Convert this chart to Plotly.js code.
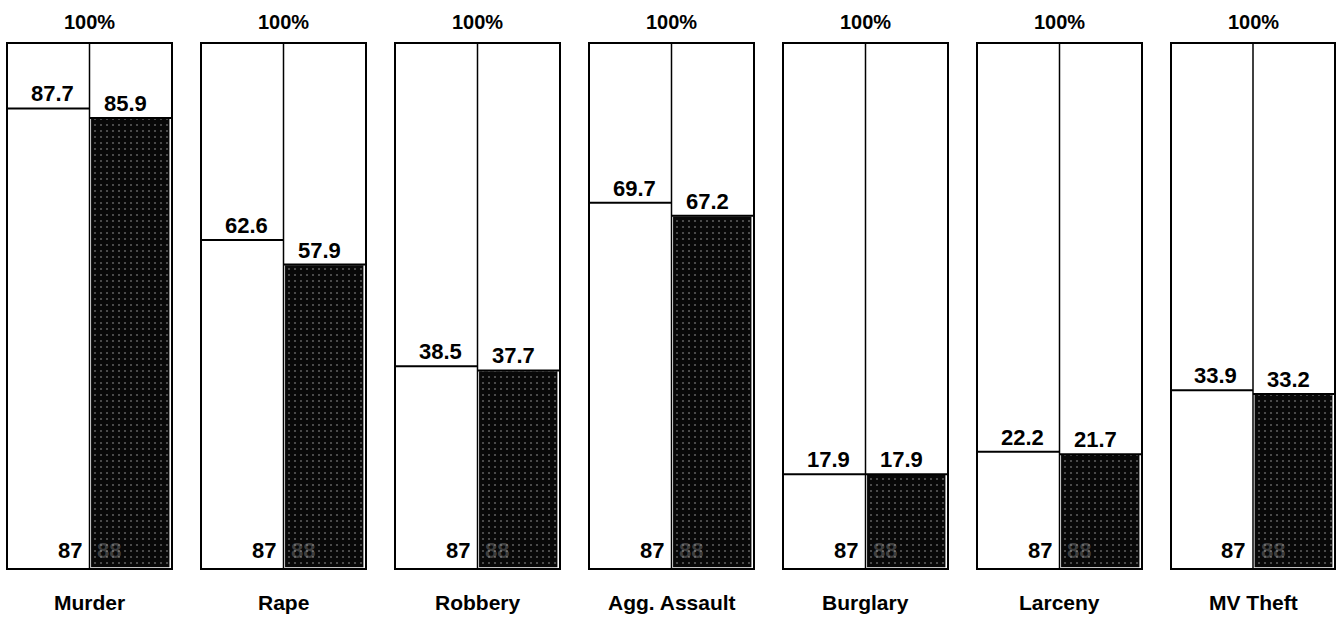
<!DOCTYPE html>
<html><head><meta charset="utf-8">
<script src="https://cdn.plot.ly/plotly-3.0.1.min.js"></script>
<style>html,body{margin:0;padding:0;background:#fff;}#chart{width:1340px;height:628px;}</style>
</head><body><div id="chart"></div>
<script>
const categories = ['Murder','Rape','Robbery','Agg. Assault','Burglary','Larceny','MV Theft'];
const pct87 = [87.7, 62.6, 38.5, 69.7, 17.9, 22.2, 33.9];
const pct88 = [85.9, 57.9, 37.7, 67.2, 17.9, 21.7, 33.2];
const yearLabels = ['87', '88'];
const topLabel = '100%';

const FONT = 'Liberation Sans, Arial, Helvetica, sans-serif';
const data = [], annotations = [], shapes = [];
const layout = {
  width: 1340, height: 628,
  margin: {l: 8, r: 6, t: 44, b: 60},
  paper_bgcolor: '#fff', plot_bgcolor: '#fff',
  showlegend: false,
  font: {family: FONT, color: '#000'},
  annotations, shapes
};
const plotW = 1340 - 8 - 6;
categories.forEach((cat, i) => {
  const k = i === 0 ? '' : String(i + 1);
  const xa = 'x' + k, ya = 'y' + k;
  const x0 = 194 * i, x1 = x0 + 163;
  const axX = {domain: [x0 / plotW, x1 / plotW], range: [0, 2], showgrid: false, zeroline: false,
    showticklabels: false, ticks: '', showline: true, mirror: true, linecolor: '#000', linewidth: 2, fixedrange: true};
  const axY = {domain: [0, 1], range: [0, 100], showgrid: false, zeroline: false,
    showticklabels: false, ticks: '', showline: true, mirror: true, linecolor: '#000', linewidth: 2, fixedrange: true};
  if (i > 0) { axX.anchor = ya; axY.anchor = xa; }
  layout['xaxis' + k] = axX;
  layout['yaxis' + k] = axY;

  // black bar (year 88)
  data.push({type: 'bar', x: [1.5], y: [pct88[i]], width: [0.98], xaxis: xa, yaxis: ya,
    marker: {color: '#080808', line: {color: '#fff', width: 1.5},
      pattern: {shape: '.', fgcolor: '#5a5a5a', bgcolor: '#080808', size: 6, solidity: 0.1}},
    hoverinfo: 'skip'});
  // top line of black bar
  data.push({type: 'scatter', mode: 'lines', x: [1, 2], y: [pct88[i], pct88[i]], xaxis: xa, yaxis: ya,
    line: {color: '#000', width: 2}, hoverinfo: 'skip'});
  // line for year 87
  data.push({type: 'scatter', mode: 'lines', x: [0, 1], y: [pct87[i], pct87[i]], xaxis: xa, yaxis: ya,
    line: {color: '#000', width: 2}, hoverinfo: 'skip'});

  // divider
  shapes.push({type: 'line', xref: xa, yref: ya + ' domain', x0: 1, x1: 1, y0: 0, y1: 1,
    line: {color: '#000', width: 1.5}});

  const bold = (s) => '<b>' + s + '</b>';
  annotations.push({xref: xa, yref: ya, x: 1, y: 100, yanchor: 'bottom', yshift: 9, showarrow: false,
    text: bold(topLabel), font: {size: 20, family: FONT, color: '#000'}});
  annotations.push({xref: xa, yref: ya, x: 0.54, y: pct87[i], yanchor: 'bottom', yshift: 0, showarrow: false,
    text: bold(pct87[i].toFixed(1)), font: {size: 22, family: FONT, color: '#000'}});
  annotations.push({xref: xa, yref: ya, x: 1.44, y: pct88[i], yanchor: 'bottom', yshift: 0, showarrow: false,
    text: bold(pct88[i].toFixed(1)), font: {size: 22, family: FONT, color: '#000'}});
  annotations.push({xref: xa, yref: ya, x: 0.93, y: 0, xanchor: 'right', yanchor: 'bottom', yshift: 3, showarrow: false,
    text: bold(yearLabels[0]), font: {size: 22, family: FONT, color: '#000'}});
  annotations.push({xref: xa, yref: ya, x: 1.07, y: 0, xanchor: 'left', yanchor: 'bottom', yshift: 3, showarrow: false,
    text: bold(yearLabels[1]), font: {size: 22, family: FONT, color: 'rgba(200,200,200,0.3)'}});
  annotations.push({xref: xa, yref: ya, x: 1, y: 0, yanchor: 'top', yshift: -21, showarrow: false,
    text: bold(cat), font: {size: 21, family: FONT, color: '#000'}});
});

Plotly.newPlot('chart', data, layout, {displayModeBar: false, staticPlot: true});
</script></body></html>
